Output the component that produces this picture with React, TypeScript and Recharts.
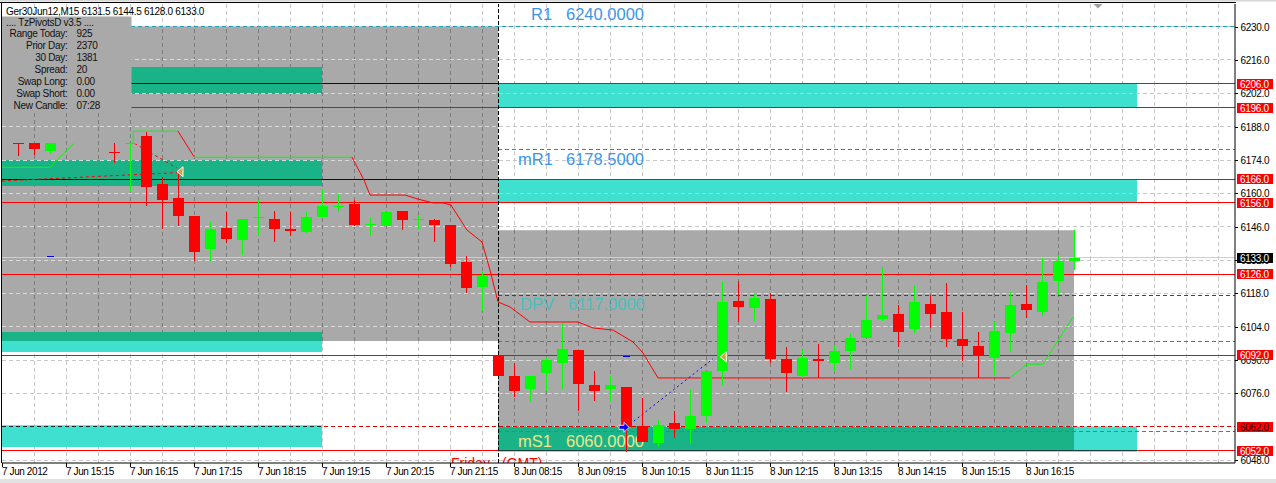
import React from 'react';
import {
  ComposedChart, XAxis, YAxis, Bar, Line, ReferenceLine, ReferenceArea, ReferenceDot, Customized,
} from 'recharts';

const W = 1276;
const H = 483;
const X_MAX = 77.0625;
const Y_MIN = 6046.8;
const Y_MAX = 6239.5;
const FONT = '"Liberation Sans", Arial, sans-serif';

// ---- candles (bar index, OHLC) ----
const barIndex = [1, 2, 3, 7, 8, 9, 10, 11, 12, 13, 14, 15, 16, 17, 18, 19, 20, 21, 22, 23, 24, 25, 26, 27, 28, 29, 30,
  31, 32, 33, 34, 35, 36, 37, 38, 39, 40, 41, 42, 43, 44, 45, 46, 47, 48, 49, 50, 51, 52, 53, 54, 55, 56, 57, 58, 59, 60,
  61, 62, 63, 64, 65, 66, 67];
const openP = [6181.0, 6181.2, 6177.9, 6177.2, 6180.9, 6184.1, 6163.9, 6158.1, 6150.5, 6136.8, 6145.5, 6140.5, 6149.6, 6149.2,
  6145.0, 6143.9, 6150.2, 6154.5, 6155.4, 6146.8, 6146.4, 6152.6, 6148.9, 6148.8, 6146.7, 6131.2, 6120.8,
  6091.6, 6083.3, 6078.0, 6084.7, 6088.6, 6094.2, 6079.5, 6077.7, 6078.8, 6062.3, 6055.3, 6063.4, 6060.9, 6066.5,
  6085.5, 6114.8, 6112.0, 6115.6, 6090.6, 6083.3, 6090.6, 6088.9, 6093.8, 6099.4, 6107.1, 6109.3, 6103.0, 6113.5,
  6110.2, 6098.8, 6095.9, 6091.0, 6101.5, 6113.5, 6110.3, 6123.3, 6131.5];
const highP = [6181.0, 6181.2, 6181.2, 6181.2, 6181.3, 6185.8, 6167.0, 6169.1, 6150.5, 6148.0, 6152.3, 6149.2, 6157.2, 6152.6,
  6152.0, 6152.2, 6161.7, 6159.7, 6157.2, 6150.0, 6152.2, 6152.6, 6150.8, 6149.2, 6146.7, 6133.7, 6127.1,
  6091.6, 6088.8, 6083.4, 6091.4, 6105.4, 6094.2, 6085.5, 6083.4, 6078.8, 6073.9, 6064.8, 6068.6, 6077.8, 6085.5,
  6123.2, 6123.3, 6118.0, 6118.0, 6095.6, 6094.2, 6096.7, 6096.2, 6101.2, 6117.0, 6129.2, 6113.1, 6121.5, 6117.3,
  6122.4, 6110.2, 6101.8, 6106.1, 6118.7, 6121.5, 6132.7, 6134.1, 6144.5];
const lowP = [6175.8, 6176.0, 6176.7, 6172.9, 6160.7, 6154.7, 6144.9, 6146.4, 6131.7, 6131.7, 6139.3, 6134.2, 6142.2, 6139.7,
  6142.2, 6143.2, 6150.2, 6152.3, 6146.4, 6142.2, 6146.4, 6144.7, 6145.0, 6139.7, 6129.2, 6118.3, 6110.6,
  6083.4, 6074.3, 6072.5, 6077.1, 6077.7, 6068.7, 6072.9, 6072.5, 6051.5, 6055.5, 6053.4, 6057.1, 6054.6, 6063.7,
  6079.5, 6106.0, 6106.4, 6088.9, 6076.6, 6082.5, 6082.5, 6085.1, 6086.4, 6099.4, 6106.5, 6095.4, 6101.5, 6103.3,
  6095.6, 6089.7, 6082.3, 6083.3, 6093.5, 6107.8, 6108.6, 6117.3, 6128.0];
const closeP = [6180.6, 6178.8, 6181.2, 6176.8, 6181.0, 6162.8, 6157.3, 6150.5, 6135.5, 6145.0, 6141.0, 6149.2, 6150.0, 6145.2,
  6144.3, 6150.1, 6154.8, 6154.8, 6146.8, 6147.1, 6152.2, 6149.0, 6149.1, 6146.8, 6130.5, 6120.4, 6125.6,
  6083.4, 6077.1, 6083.4, 6090.0, 6094.6, 6079.8, 6077.1, 6079.5, 6062.0, 6055.7, 6062.7, 6061.2, 6066.5, 6085.5,
  6114.5, 6112.4, 6116.2, 6090.6, 6084.6, 6091.0, 6089.7, 6093.8, 6099.4, 6106.8, 6108.9, 6101.9, 6114.4, 6109.3,
  6099.0, 6096.0, 6091.7, 6102.2, 6113.1, 6111.1, 6122.8, 6131.5, 6133.0];

// ---- axis ticks ----
const labelBars = [0, 4, 8, 12, 16, 20, 24, 28, 32, 36, 40, 44, 48, 52, 56, 60, 64];
const labelText = ['7 Jun 2012', '7 Jun 15:15', '7 Jun 16:15', '7 Jun 17:15', '7 Jun 18:15', '7 Jun 19:15', '7 Jun 20:15',
  '7 Jun 21:15', '8 Jun 08:15', '8 Jun 09:15', '8 Jun 10:15', '8 Jun 11:15', '8 Jun 12:15', '8 Jun 13:15', '8 Jun 14:15',
  '8 Jun 15:15', '8 Jun 16:15'];
const gridBars = [2, 4, 6, 8, 10, 12, 14, 16, 18, 20, 22, 24, 26, 28, 30, 32, 34, 36, 38, 40, 42, 44, 46, 48, 50, 52, 54, 56,
  58, 60, 62, 64, 66, 68, 70, 72, 74, 76];
const gridPrices = [6048, 6062, 6076, 6090, 6104, 6118, 6132, 6146, 6160, 6174, 6188, 6202, 6216, 6230];
const tagPrices = [6206, 6196, 6166, 6156, 6126, 6092, 6062, 6052];
const darkTextTags = [6062];
const currentPrice = 6133;
const shiftMarkBar = 68.5;

// ---- day boxes & zones ----
const boxFrom = [0, 31];
const boxTo = [31, 67];
const boxLo = [6098, 6052];
const boxHi = [6230, 6144.5];
const zoneFrom = [8.06, 0, 0, 0, 31, 31, 31];
const zoneTo = [20, 20, 20, 20, 70.94, 70.94, 70.94];
const zoneLo = [6201.7, 6163.1, 6093.4, 6053.5, 6196, 6156, 6051.5];
const zoneHi = [6213.1, 6174.0, 6101.8, 6062.7, 6206, 6166, 6062.1];

// ---- levels ----
const dayStart = 31;
const panelEnd = 8.06;
const zoneEnd = 70.94;
const leftZoneEnd = 20;
const R1_LINE = 6230;
const PP_HI = 6206;
const PP_LO = 6196;
const MR1 = 6178.5;
const L_6166 = 6166;
const L_6156 = 6156;
const L_6126 = 6126;
const DPV = 6117;
const L_6098 = 6098;
const L_6092 = 6092;
const L_6062 = 6062;
const MS1 = 6060;
const L_6052 = 6052;

// ---- indicator lines ----
const indGreenA = [{ i: 0, p: 6170.95 }, { i: 3, p: 6170.95 }, { i: 4.5, p: 6181.0 }];
const indGreenB = [{ i: 7.7, p: 6181.0 }, { i: 8.2, p: 6181.0 }, { i: 8.2, p: 6186.1 }, { i: 11, p: 6186.1 }];
const indRedA = [{ i: 11, p: 6186.1 }, { i: 12, p: 6175.4 }];
const indGreenC = [{ i: 12, p: 6175.15 }, { i: 21.875, p: 6175.15 }];
const indRedB = [
  { i: 21.875, p: 6175.15 }, { i: 22.625, p: 6165.6 }, { i: 23, p: 6159.3 }, { i: 25.19, p: 6159.3 }, { i: 26, p: 6157.6 },
  { i: 26.94, p: 6156.0 }, { i: 27.56, p: 6156.0 }, { i: 28.06, p: 6155.1 }, { i: 29.06, p: 6144.6 }, { i: 30, p: 6139.6 },
  { i: 30.5, p: 6127.8 }, { i: 31, p: 6114.4 }, { i: 31.75, p: 6112.3 }, { i: 33, p: 6106.0 }, { i: 36, p: 6106.0 },
  { i: 36.94, p: 6103.5 }, { i: 38.19, p: 6102.6 }, { i: 39.44, p: 6097.6 }, { i: 40.06, p: 6093.0 }, { i: 41, p: 6082.5 },
  { i: 63, p: 6082.5 },
];
const indGreenD = [{ i: 63, p: 6082.5 }, { i: 64.06, p: 6088.3 }, { i: 65.06, p: 6088.3 }, { i: 66.94, p: 6108.1 }];
const dashRedA = [{ i: 0, p: 6165.2 }, { i: 10.94, p: 6168.7 }];
const dashRedB = [{ i: 8.27, p: 6181.0 }, { i: 10.92, p: 6170.7 }];
const dashBlue = [{ i: 39.0, p: 6061.8 }, { i: 44.44, p: 6090.6 }];
const arrowTri = [{ i: 11.125, p: 6169.1 }, { i: 45.08, p: 6091.4 }];
const arrowBlue = { i: 38.875, p: 6061.8 };
const blueDashes = [{ a: 2.8, b: 3.25, p: 6133.7 }, { a: 38.8, b: 39.25, p: 6091.6 }];

// ---- texts ----
const headerText = 'Ger30Jun12,M15 6131.5 6144.5 6128.0 6133.0';
const panelTitle = '.... TzPivotsD v3.5 ....';
const panelLabels = ['Range Today:', 'Prior Day:', '30 Day:', 'Spread:', 'Swap Long:', 'Swap Short:', 'New Candle:'];
const panelValues = ['925', '2370', '1381', '20', '0.00', '0.00', '07:28'];

const candles = barIndex.map((i, k) => ({ i, o: openP[k], h: highP[k], l: lowP[k], c: closeP[k] }));

const GRAY = '#a9a9a9';
const TURQ = '#40e0d0';
const GREEN_ZONE = '#1ab387';
const RED = '#ff0000';

const Candle = (props: any) => {
  const { x, y, width, height, payload } = props;
  if (!payload || x == null || y == null) return null;
  const { o, h, l, c } = payload;
  const up = c >= o;
  const color = up ? '#00ff00' : '#ff0000';
  const k = h - l > 0 ? height / (h - l) : 0;
  const cx = Math.round(x + width / 2);
  const top = y + (h - Math.max(o, c)) * k;
  const bh = Math.max(1, Math.abs(o - c) * k);
  return (
    <g shapeRendering="crispEdges">
      <rect x={cx} y={y} width={1} height={Math.max(1, height)} fill={color} />
      <rect x={cx - 5} y={top} width={11} height={bh} fill={color} />
    </g>
  );
};

const YTick = (props: any) => {
  const { x, y, payload } = props;
  const v = payload.value;
  const yy = Math.round(y);
  const txt = v.toFixed(1);
  const ts = { fontFamily: FONT, fontSize: 10, letterSpacing: '-0.3px' };
  if (v === currentPrice) {
    return (
      <g>
        <rect x={x + 2} y={yy - 5} width={36} height={10} fill="#000" />
        <text x={x + 5} y={yy + 3.5} fill="#fff" style={ts}>{txt}</text>
      </g>
    );
  }
  if (tagPrices.includes(v)) {
    return (
      <g>
        <rect x={x + 2} y={yy - 5} width={36} height={10} fill={RED} />
        <text x={x + 5} y={yy + 3.5} fill={darkTextTags.includes(v) ? '#300000' : '#fff'} style={ts}>{txt}</text>
      </g>
    );
  }
  return (
    <g>
      <line x1={x} x2={x + 3} y1={yy + 0.5} y2={yy + 0.5} stroke="#000" />
      <text x={x + 5.5} y={yy + 3.5} fill="#000" style={ts}>{txt}</text>
    </g>
  );
};

const XTick = (props: any) => {
  const { x, y, payload } = props;
  const idx = labelBars.indexOf(payload.value);
  return (
    <g>
      <line x1={Math.round(x) + 0.5} x2={Math.round(x) + 0.5} y1={y} y2={y + 4} stroke="#000" />
      <text x={x} y={y + 12} fill="#000" style={{ fontFamily: FONT, fontSize: 10, letterSpacing: '-0.4px' }}>
        {labelText[idx]}
      </text>
    </g>
  );
};

const Overlay = () => {
  const ts = { fontFamily: FONT, fontSize: 10, letterSpacing: '-0.3px' };
  const big = { fontFamily: FONT, fontSize: 16.5 };
  return (
    <g>
      <defs>
        <clipPath id="fridayClip"><rect x={0} y={0} width={1236} height={463} /></clipPath>
      </defs>
      <rect x={0} y={0} width={W} height={1.5} fill="#d8d8d8" />
      <rect x={0} y={479} width={W} height={4} fill="#e2e2e2" />
      <line x1={0} x2={1236} y1={2.5} y2={2.5} stroke="#000" />
      <line x1={1.5} x2={1.5} y1={2} y2={463} stroke="#000" />
      <text x={6} y={15} fill="#000" style={ts}>{headerText}</text>
      <rect x={2} y={16.5} width={129.5} height={95} fill={GRAY} />
      <text x={6} y={26} fill="#111" style={ts}>{panelTitle}</text>
      {panelLabels.map((lab, k) => (
        <g key={lab}>
          <text x={67.5} y={37.3 + k * 11.93} textAnchor="end" fill="#111" style={ts}>{lab}</text>
          <text x={76.5} y={37.3 + k * 11.93} fill="#111" style={ts}>{panelValues[k]}</text>
        </g>
      ))}
      <text x={531} y={20} fill="#3a95ea" style={big}>R1</text>
      <text x={566} y={20} fill="#3a95ea" style={big}>6240.0000</text>
      <text x={518} y={165} fill="#3a95ea" style={big}>mR1</text>
      <text x={566} y={165} fill="#3a95ea" style={big}>6178.5000</text>
      <text x={520} y={310} fill="#46c0c0" style={big}>DPV</text>
      <text x={568} y={310} fill="#46c0c0" style={big}>6117.0000</text>
      <text x={518} y={446.5} fill="#f0e68c" style={big}>mS1</text>
      <text x={566} y={446.5} fill="#f0e68c" style={big}>6060.0000</text>
      <g clipPath="url(#fridayClip)">
        <text x={451} y={468} fill={RED} style={{ fontFamily: FONT, fontSize: 14 }}>Friday</text>
        <text x={502} y={468} fill={RED} style={{ fontFamily: FONT, fontSize: 14 }}>(GMT)</text>
      </g>
    </g>
  );
};

const hSeg = (key: string, p: number, a: number, b: number, color: string, dash: string | undefined, z: number) => (
  <ReferenceLine
    key={key}
    segment={[{ x: a, y: p }, { x: b, y: p }]}
    stroke={color}
    strokeDasharray={dash}
    strokeWidth={1}
    shapeRendering="crispEdges"
    zIndex={z}
  />
);

export default function App() {
  const zoneGreens: any[] = [];
  zoneFrom.forEach((zf, z) => {
    boxFrom.forEach((bf, b) => {
      const x1 = Math.max(zf, bf);
      const x2 = Math.min(zoneTo[z], boxTo[b]);
      const y1 = Math.max(zoneLo[z], boxLo[b]);
      const y2 = Math.min(zoneHi[z], boxHi[b]);
      if (x1 < x2 && y1 < y2) zoneGreens.push({ key: `zg${z}-${b}`, x1, x2, y1, y2 });
    });
  });

  const yTicks = [...gridPrices.filter((p) => !tagPrices.includes(p)), ...tagPrices, currentPrice];

  return (
    <div style={{ position: 'absolute', left: 0, top: 0, width: W, height: H, background: '#fff' }}>
      <ComposedChart width={W} height={H} data={candles} margin={{ top: 4, right: 0, bottom: 0, left: 2 }}>
        <XAxis
          dataKey="i"
          type="number"
          domain={[0, X_MAX]}
          allowDataOverflow
          ticks={labelBars}
          interval={0}
          tick={<XTick />}
          tickLine={false}
          tickSize={0}
          tickMargin={0}
          height={20}
          axisLine={{ stroke: '#000' }}
        />
        <YAxis
          orientation="right"
          type="number"
          domain={[Y_MIN, Y_MAX]}
          allowDataOverflow
          ticks={yTicks}
          interval={0}
          tick={<YTick />}
          tickLine={false}
          tickSize={0}
          tickMargin={0}
          width={41}
          axisLine={{ stroke: '#000' }}
        />

        {gridBars.map((b) => (
          <ReferenceLine key={`vg${b}`} x={b} stroke="#c8c8c8" strokeDasharray="4 3" shapeRendering="crispEdges" zIndex={-95} />
        ))}

        {boxFrom.map((bf, b) => (
          <ReferenceArea key={`box${b}`} x1={bf} x2={boxTo[b]} y1={boxLo[b]} y2={boxHi[b]} fill={GRAY} fillOpacity={1}
            stroke="none" zIndex={-90} />
        ))}

        {boxFrom.map((bf, b) =>
          gridBars.filter((g) => g > bf && g < boxTo[b]).map((g) => (
            <ReferenceLine key={`vd${b}-${g}`} segment={[{ x: g, y: boxLo[b] }, { x: g, y: boxHi[b] }]} stroke="#7c7c7c"
              strokeDasharray="4 3" shapeRendering="crispEdges" zIndex={-85} />
          )))}

        {zoneFrom.map((zf, z) => (
          <ReferenceArea key={`zone${z}`} x1={zf} x2={zoneTo[z]} y1={zoneLo[z]} y2={zoneHi[z]} fill={TURQ} fillOpacity={1}
            stroke="none" zIndex={-80} />
        ))}
        {zoneGreens.map((g) => (
          <ReferenceArea key={g.key} x1={g.x1} x2={g.x2} y1={g.y1} y2={g.y2} fill={GREEN_ZONE} fillOpacity={1}
            stroke="none" zIndex={-78} />
        ))}

        {gridPrices.map((p) => hSeg(`hg${p}`, p, 0, X_MAX, '#c8c8c8', '4 3', -70))}
        {boxFrom.map((bf, b) =>
          gridPrices.filter((p) => p > boxLo[b] && p < boxHi[b]).map((p) =>
            hSeg(`hgb${b}-${p}`, p, bf, boxTo[b], '#dadada', '4 3', -69)))}

        {hSeg('r1', R1_LINE, panelEnd, X_MAX, '#1f9fb2', '4 3', -60)}
        {hSeg('pphB', PP_HI, panelEnd, dayStart, '#111', undefined, -60)}
        {hSeg('pphR', PP_HI, dayStart, X_MAX, RED, undefined, -60)}
        {hSeg('ppl', PP_LO, panelEnd, X_MAX, RED, undefined, -60)}
        {hSeg('mr1', MR1, dayStart, X_MAX, '#808000', '4 3', -60)}
        {hSeg('l6166B', L_6166, 0, dayStart, '#111', undefined, -60)}
        {hSeg('l6166R', L_6166, dayStart, X_MAX, RED, undefined, -60)}
        {hSeg('l6156', L_6156, 0, X_MAX, RED, undefined, -60)}
        {hSeg('bid', currentPrice, 0, X_MAX, '#cfcfcf', undefined, -60)}
        {hSeg('l6126', L_6126, 0, X_MAX, RED, undefined, -60)}
        {hSeg('dpv', DPV, dayStart, X_MAX, '#3232dc', '4 3', -60)}
        {hSeg('l6098', L_6098, dayStart, X_MAX, '#1a8fa0', '4 3', -60)}
        {hSeg('l6092', L_6092, 0, X_MAX, RED, undefined, -60)}
        {hSeg('l6062', L_6062, 0, X_MAX, '#e00000', '4 3', -60)}
        {hSeg('l6062d', L_6062, 0, leftZoneEnd, '#202020', '4 3', -59)}
        {hSeg('ms1', MS1, dayStart, X_MAX, '#808000', '4 3', -60)}
        {hSeg('l6052', L_6052, 0, X_MAX, RED, undefined, -60)}
        {hSeg('l6052d', L_6052, dayStart, zoneEnd, '#1f3f3f', undefined, -59)}
        {blueDashes.map((d, k) => hSeg(`bd${k}`, d.p, d.a, d.b, '#0000ff', undefined, -58))}

        <ReferenceLine x={dayStart} stroke="#000" strokeDasharray="4 2" shapeRendering="crispEdges" zIndex={-55} />

        <Line data={indGreenA} dataKey="p" type="linear" stroke="#00ff00" dot={false} isAnimationActive={false} zIndex={-40} />
        <Line data={indGreenB} dataKey="p" type="linear" stroke="#00ff00" dot={false} isAnimationActive={false} zIndex={-40} />
        <Line data={indRedA} dataKey="p" type="linear" stroke="#ff0000" dot={false} isAnimationActive={false} zIndex={-40} />
        <Line data={indGreenC} dataKey="p" type="linear" stroke="#00ff00" dot={false} isAnimationActive={false} zIndex={-40} />
        <Line data={indRedB} dataKey="p" type="linear" stroke="#ff0000" dot={false} isAnimationActive={false} zIndex={-40} />
        <Line data={indGreenD} dataKey="p" type="linear" stroke="#00ff00" dot={false} isAnimationActive={false} zIndex={-40} />
        <Line data={dashRedA} dataKey="p" type="linear" stroke="#ff0000" strokeDasharray="3 3" dot={false}
          isAnimationActive={false} zIndex={-40} />
        <Line data={dashRedB} dataKey="p" type="linear" stroke="#ff0000" strokeDasharray="3 3" dot={false}
          isAnimationActive={false} zIndex={-40} />
        <Line data={dashBlue} dataKey="p" type="linear" stroke="#0000ff" strokeDasharray="2 3" dot={false}
          isAnimationActive={false} zIndex={-40} />

        <Customized component={<Overlay />} />

        <Bar dataKey={(d: any) => [d.l, d.h]} barSize={11} shape={(p: any) => <Candle {...p} />} isAnimationActive={false} />

        {arrowTri.map((a, k) => (
          <ReferenceDot key={`tri${k}`} x={a.i} y={a.p} r={5} zIndex={350}
            shape={(p: any) => (
              <polygon points={`${p.cx - 3},${p.cy} ${p.cx + 3},${p.cy - 5} ${p.cx + 3},${p.cy + 5}`} fill="#d9a33a"
                stroke="#ffffff" strokeWidth={1} />
            )} />
        ))}
        <ReferenceDot x={arrowBlue.i} y={arrowBlue.p} r={5} zIndex={350}
          shape={(p: any) => (
            <polygon
              points={`${p.cx - 5},${p.cy - 2} ${p.cx},${p.cy - 2} ${p.cx},${p.cy - 5} ${p.cx + 5},${p.cy} ${p.cx},${p.cy + 5} ${p.cx},${p.cy + 2} ${p.cx - 5},${p.cy + 2}`}
              fill="#0000ff" stroke="#ffffff" strokeWidth={0.8} />
          )} />
        <ReferenceDot x={shiftMarkBar} y={Y_MAX} r={4} zIndex={350} ifOverflow="visible"
          shape={(p: any) => (
            <polygon points={`${p.cx - 4.5},${p.cy} ${p.cx + 4.5},${p.cy} ${p.cx},${p.cy + 4.5}`} fill="#a0a0a0" />
          )} />
      </ComposedChart>
    </div>
  );
}
